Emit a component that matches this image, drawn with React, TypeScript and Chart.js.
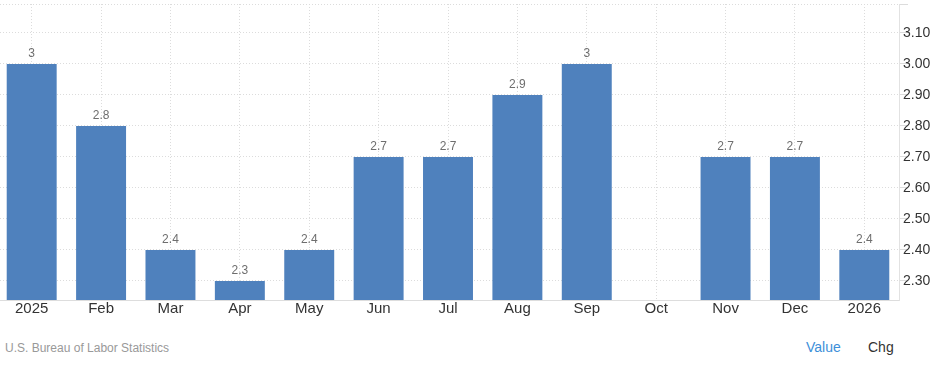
import React, { useEffect, useRef } from "react";
import { Chart, registerables } from "chart.js";

Chart.register(...registerables);

const categories = ["2025", "Feb", "Mar", "Apr", "May", "Jun", "Jul", "Aug", "Sep", "Oct", "Nov", "Dec", "2026"];
const values: (number | null)[] = [3, 2.8, 2.4, 2.3, 2.4, 2.7, 2.7, 2.9, 3, null, 2.7, 2.7, 2.4];
const yTicks = [2.3, 2.4, 2.5, 2.6, 2.7, 2.8, 2.9, 3.0, 3.1];
const yMin = 2.2387;
const yMax = 3.1935;
const sourceText = "U.S. Bureau of Labor Statistics";

const FONT = "'Liberation Sans', Arial, sans-serif";

const valueLabels = {
  id: "valueLabels",
  afterDatasetsDraw(chart: any) {
    const ctx = chart.ctx;
    const meta = chart.getDatasetMeta(0);
    ctx.save();
    ctx.font = `12px ${FONT}`;
    ctx.fillStyle = "#6e6e6e";
    ctx.textAlign = "center";
    ctx.textBaseline = "alphabetic";
    meta.data.forEach((bar: any, i: number) => {
      const v = values[i];
      if (v === null || v === undefined) return;
      ctx.fillText(String(v), bar.x, bar.y - 7);
    });
    ctx.restore();
  },
};

export default function App() {
  const ref = useRef<HTMLCanvasElement | null>(null);
  useEffect(() => {
    if (!ref.current) return;
    const chart = new Chart(ref.current, {
      type: "bar",
      data: {
        labels: categories,
        datasets: [
          {
            data: values,
            backgroundColor: "#4f81bd",
            borderWidth: 0,
            categoryPercentage: 0.8,
            barPercentage: 0.9,
          },
        ],
      },
      options: {
        animation: false,
        responsive: false,
        maintainAspectRatio: false,
        layout: { padding: { top: 4, left: 0, right: 0, bottom: 0 } },
        plugins: { legend: { display: false }, tooltip: { enabled: false } },
        scales: {
          x: {
            grid: {
              offset: false,
              color: "#dcdcdc",
              drawTicks: false,
              lineWidth: 1,
            },
            border: { display: true, color: "#dddddd", dash: [1, 2] },
            ticks: {
              color: "#333333",
              font: { family: FONT, size: 15 },
              padding: 0,
              maxRotation: 0,
              autoSkip: false,
            },
            afterFit(scale: any) {
              scale.height = 30;
            },
          },
          y: {
            position: "right",
            min: yMin,
            max: yMax,
            afterBuildTicks(scale: any) {
              scale.ticks = [...yTicks, yMax].map((v) => ({ value: v }));
            },
            grid: {
              color: "#dcdcdc",
              tickLength: 9,
              lineWidth: 1,
            },
            border: { display: true, color: "#e2e2e2", dash: [1, 2] },
            ticks: {
              color: "#333333",
              font: { family: FONT, size: 14 },
              padding: -5,
              callback: (v: any) => (Math.abs(Number(v) - yMax) < 1e-6 ? "" : Number(v).toFixed(2)),
            },
            afterFit(scale: any) {
              scale.width = 44;
            },
          },
        },
      },
      plugins: [valueLabels],
    });
    return () => chart.destroy();
  }, []);

  return (
    <div style={{ position: "absolute", left: 0, top: 0, width: 943, height: 366, background: "#fff", overflow: "hidden" }}>
      <canvas ref={ref} width={946} height={330} style={{ position: "absolute", left: -3, top: 0, width: 946, height: 330 }} />
      <div style={{ position: "absolute", left: 5, top: 342, fontFamily: FONT, fontSize: 12, lineHeight: "12px", color: "#999999", whiteSpace: "nowrap" }}>
        {sourceText}
      </div>
      <div style={{ position: "absolute", left: 806, top: 340, fontFamily: FONT, fontSize: 14, lineHeight: "14px", color: "#3d8fd9", whiteSpace: "nowrap" }}>
        Value
      </div>
      <div style={{ position: "absolute", left: 868, top: 340, fontFamily: FONT, fontSize: 14, lineHeight: "14px", color: "#333333", whiteSpace: "nowrap" }}>
        Chg
      </div>
    </div>
  );
}
